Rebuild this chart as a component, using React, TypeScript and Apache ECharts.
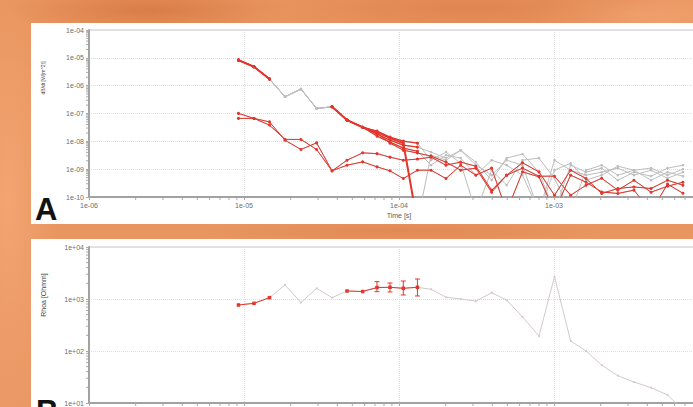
import React, { useEffect, useRef } from 'react';
import * as echarts from 'echarts';

// Sample times shared by all soundings (s)
const TIMES = [9.21e-6, 1.16e-5, 1.46e-5, 1.84e-5, 2.33e-5, 2.94e-5, 3.70e-5, 4.62e-5, 5.83e-5, 7.21e-5,
  8.75e-5, 1.066e-4, 1.315e-4, 1.61e-4, 2.01e-4, 2.50e-4, 3.13e-4, 3.96e-4, 4.95e-4, 6.26e-4,
  8.0e-4, 1.007e-3, 1.28e-3, 1.61e-3, 2.03e-3, 2.58e-3, 3.28e-3, 4.23e-3, 5.40e-3, 6.79e-3];

// Panel A: dB/dt – early part shared by the stacked high-moment curves (k0..k8)
const TOP_HEAD = [8.3e-6, 4.8e-6, 1.73e-6, 4.0e-7, 7.55e-7, 1.52e-7, 1.74e-7, 5.8e-8, 3.2e-8];
// later parts (k9..k29)
const FAN_1 = [2.14e-8, 1.30e-8, 8.6e-9, 1.2e-11, 3.2e-9, 2.1e-9, 4.8e-9, 1.39e-9, 6.1e-10, 2.1e-9, 1.39e-9, 3e-11, 2.1e-9, 9.2e-10, 6.1e-10, 7.8e-10, 1.09e-9, 6.1e-10, 9.2e-10, 4.7e-10, 7.8e-10];
const FAN_2 = [1.82e-8, 1.10e-8, 7.3e-9, 6.2e-9, 4.1e-9, 2.5e-9, 4.8e-9, 1.79e-9, 4.0e-10, 2.5e-9, 3.5e-9, 7.8e-10, 3e-11, 1.39e-9, 7.8e-10, 1.09e-9, 4.0e-10, 7.8e-10, 5.6e-10, 1.09e-9, 1.39e-9];
const FAN_3 = [2.33e-8, 1.42e-8, 1.02e-8, 8.6e-9, 2.1e-9, 4.1e-9, 1.64e-9, 3e-11, 9.2e-10, 2.65e-10, 2.1e-9, 2.5e-9, 4.7e-10, 3e-11, 9.2e-10, 1.39e-9, 6.1e-10, 9.2e-10, 4.0e-10, 7.8e-10, 5.6e-10];
const FAN_4 = [1.54e-8, 9.35e-9, 5.7e-9, 4.4e-9, 1.39e-9, 3.2e-9, 2.5e-9, 6.1e-10, 2.1e-9, 1.39e-9, 6.1e-10, 3e-11, 9.2e-10, 1.64e-9, 4.0e-10, 6.1e-10, 1.28e-9, 9.2e-10, 1.09e-9, 6.1e-10, 1.0e-9];
const FAN_5 = [1.97e-8, 8.6e-9, 4.8e-9, 3.8e-9, 2.94e-9, 1.79e-9, 9.2e-10, 1.09e-9, 1.49e-10, 6.1e-10, 1.09e-9, 5.6e-10, 5.6e-10, 1.16e-10, 2.65e-10, 4.7e-10, 1.76e-10, 4.0e-10, 1.49e-10, 2.44e-10, 3.4e-10];
// low-moment curves (k0..k29)
const LOW_1 = [1.01e-7, 6.67e-8, 5.0e-8, 1.10e-8, 5.1e-9, 8.8e-9, 8.7e-10, 2.1e-9, 3.86e-9, 3.61e-9, 2.7e-9, 2.1e-9, 2.3e-9, 2.7e-9, 1.39e-9, 1.79e-9, 1.28e-9, 1.76e-10, 6.1e-10, 1.69e-9, 8.0e-10, 1.16e-10, 9.2e-10, 4.6e-10, 1.34e-10, 2.02e-10, 2.3e-10, 2.02e-10, 4.0e-10, 2.65e-10];
const LOW_2 = [6.67e-8, 6.67e-8, 3.83e-8, 1.17e-8, 1.17e-8, 5.1e-9, 8.7e-10, 1.39e-9, 1.83e-9, 1.21e-9, 8.7e-10, 4.6e-10, 9.2e-10, 9.2e-10, 4.6e-10, 1.39e-9, 6.1e-10, 1.09e-9, 3e-11, 8.0e-10, 5.3e-10, 3e-11, 6.1e-10, 3.4e-10, 1.52e-10, 1.34e-10, 1.76e-10, 3e-11, 2.9e-10, 1.37e-10];

// Panel B: apparent resistivity (Ohmm)
const RHOA = [767, 826, 1060, 1860, 852, 1607, 1060, 1426, 1393, 1663, 1679, 1607, 1679, 1538, 1080, 1000, 910, 1320, 955, 451, 194, 2685, 156, 100, 53.7, 33.5, 25.3, 19.7, 14.3, 7.3];
const ERR_IDX = [9, 10, 11, 12];
const ERR_LOW = [1380, 1365, 1194, 1143];
const ERR_HIGH = [2155, 2030, 2218, 2424];

const RED = '#e3362c';
const GREY = '#bdbdbd';
const GREY_B = '#d2cac8';
const FONT = 'Liberation Sans';
const LABEL = '#6e6e6e';

const fmt = (v: number) => {
  const e = Math.round(Math.log10(v));
  return '1e' + (e < 0 ? '-' : '+') + String(Math.abs(e)).padStart(2, '0');
};
// the 1e-02 tick lies beyond the visible edge
const fmtX = (v: number) => (Math.round(Math.log10(v)) >= -2 ? '' : fmt(v));

const pairs = (vals: number[], a = 0, b = vals.length - 1) => {
  const out: number[][] = [];
  for (let i = a; i <= b; i++) out.push([TIMES[i], vals[i]]);
  return out;
};

const decadeMinors = (lo: number, hi: number) => {
  const out: number[] = [];
  for (let e = lo; e < hi; e++) for (let m = 2; m <= 9; m++) out.push(m * Math.pow(10, e));
  return out;
};

function buildOption() {
  const linesA = [
    { v: [...TOP_HEAD, ...FAN_3], red: [[0, 2], [6, 12]], w: 1.2 },
    { v: [...TOP_HEAD, ...FAN_2], red: [[0, 2], [6, 12]], w: 1.2 },
    { v: [...TOP_HEAD, ...FAN_4], red: [[0, 2], [6, 12]], w: 1.2 },
    { v: [...TOP_HEAD, ...FAN_5], red: [[0, 2], [6, 29]], w: 1 },
    { v: [...TOP_HEAD, ...FAN_1], red: [[0, 2], [6, 12]], w: 2 },
    { v: LOW_1, red: [[0, 29]], w: 1 },
    { v: LOW_2, red: [[0, 29]], w: 1 },
  ];
  const series: any[] = [];
  const line = (data: any[], color: string, width: number, size: number, idx: number, z: number, sym = 'circle') => ({
    type: 'line', xAxisIndex: idx, yAxisIndex: idx, data, symbol: sym, symbolSize: size,
    lineStyle: { color, width }, itemStyle: { color }, z, silent: true, clip: true,
  });
  linesA.forEach((l) => series.push(line(pairs(l.v), GREY, 1, 2.5, 0, 2)));
  linesA.forEach((l) => l.red.forEach(([a, b]) => series.push(line(pairs(l.v, a, b), RED, l.w, 3, 0, 3))));

  series.push(line(pairs(RHOA), GREY_B, 1, 2, 1, 2));
  series.push(line(pairs(RHOA, 0, 2), RED, 1, 3.5, 1, 3, 'rect'));
  series.push(line(pairs(RHOA, 7, 12), RED, 1, 3.5, 1, 3, 'rect'));
  series.push({
    type: 'custom', xAxisIndex: 1, yAxisIndex: 1, z: 4, silent: true,
    data: ERR_IDX.map((k, i) => [TIMES[k], ERR_LOW[i], ERR_HIGH[i]]),
    encode: { x: 0, y: [1, 2] },
    renderItem: (_p: any, api: any) => {
      const lo = api.coord([api.value(0), api.value(1)]);
      const hi = api.coord([api.value(0), api.value(2)]);
      const c = 2.5;
      const st = { stroke: RED, lineWidth: 1 };
      return {
        type: 'group', children: [
          { type: 'line', shape: { x1: lo[0], y1: lo[1], x2: hi[0], y2: hi[1] }, style: st },
          { type: 'line', shape: { x1: lo[0] - c, y1: lo[1], x2: lo[0] + c, y2: lo[1] }, style: st },
          { type: 'line', shape: { x1: hi[0] - c, y1: hi[1], x2: hi[0] + c, y2: hi[1] }, style: st },
        ],
      };
    },
  });

  // minor ticks on log axes
  const minorX = (idx: number, yMin: number) => ({
    type: 'custom', xAxisIndex: idx, yAxisIndex: idx, silent: true, clip: false, z: 1,
    data: decadeMinors(-6, -2).map((v) => [v, yMin]), encode: { x: 0, y: 1 },
    renderItem: (_p: any, api: any) => {
      const p = api.coord([api.value(0), api.value(1)]);
      return { type: 'line', shape: { x1: p[0], y1: p[1] + 1, x2: p[0], y2: p[1] + 3 }, style: { stroke: '#aaaaaa', lineWidth: 1 } };
    },
  });
  const minorY = (idx: number, lo: number, hi: number) => ({
    type: 'custom', xAxisIndex: idx, yAxisIndex: idx, silent: true, clip: false, z: 1,
    data: decadeMinors(lo, hi).map((v) => [1e-6, v]), encode: { x: 0, y: 1 },
    renderItem: (_p: any, api: any) => {
      const p = api.coord([api.value(0), api.value(1)]);
      return { type: 'line', shape: { x1: p[0] - 3, y1: p[1], x2: p[0] - 1, y2: p[1] }, style: { stroke: '#aaaaaa', lineWidth: 1 } };
    },
  });
  series.push(minorX(0, 1e-10), minorX(1, 10), minorY(0, -10, -4), minorY(1, 1, 4));

  const axisCommon = {
    type: 'log', logBase: 10,
    axisLine: { show: true, onZero: false, lineStyle: { color: '#a2a2a2', width: 2 } },
    axisTick: { show: true, length: 3, lineStyle: { color: '#aaaaaa' } },
    axisLabel: { formatter: fmt, fontSize: 7, color: LABEL, fontFamily: FONT, margin: 5 },
    splitLine: { show: true, lineStyle: { type: 'dotted', color: '#dedede', width: 1 } },
  };

  return {
    animation: false,
    grid: [
      { left: 89, top: 30, width: 620, height: 167, show: true, borderColor: '#c6c6c6', borderWidth: 1 },
      { left: 89, top: 247, width: 620, height: 156, show: true, borderColor: '#c6c6c6', borderWidth: 1 },
    ],
    xAxis: [
      { ...axisCommon, gridIndex: 0, min: 1e-6, max: 1e-2, name: 'Time [s]', nameLocation: 'middle', nameGap: 15,
        axisLabel: { ...axisCommon.axisLabel, formatter: fmtX },
        nameTextStyle: { fontSize: 7, color: '#5e5e5e', fontFamily: FONT } },
      { ...axisCommon, gridIndex: 1, min: 1e-6, max: 1e-2, axisLabel: { show: false } },
    ],
    yAxis: [
      { ...axisCommon, gridIndex: 0, min: 1e-10, max: 1e-4 },
      { ...axisCommon, gridIndex: 1, min: 10, max: 1e4 },
    ],
    graphic: [
      { type: 'text', x: 43, y: 78, rotation: Math.PI / 2, silent: true,
        style: { text: 'dB/dt [V/(m^2)]', fontSize: 5, fontFamily: FONT, fill: '#444', align: 'center', verticalAlign: 'middle' } },
      { type: 'text', x: 43, y: 295, rotation: Math.PI / 2, silent: true,
        style: { text: 'Rhoa [Ohmm]', fontSize: 7, fontFamily: FONT, fill: '#444', align: 'center', verticalAlign: 'middle' } },
      { type: 'text', x: 35, y: 209, silent: true,
        style: { text: 'A', fontSize: 31, fontWeight: 'bold', fontFamily: FONT, fill: '#111', align: 'left', verticalAlign: 'middle' } },
      { type: 'text', x: 36, y: 411, silent: true,
        style: { text: 'B', fontSize: 31, fontWeight: 'bold', fontFamily: FONT, fill: '#111', align: 'left', verticalAlign: 'middle' } },
    ],
    series,
  };
}

const BG = [
  'radial-gradient(ellipse 140px 26px at 150px 10px, rgba(212,116,62,0.75), rgba(212,116,62,0))',
  'radial-gradient(ellipse 220px 30px at 470px 8px, rgba(220,126,74,0.7), rgba(220,126,74,0))',
  'radial-gradient(ellipse 120px 22px at 640px 14px, rgba(246,170,120,0.7), rgba(246,170,120,0))',
  'radial-gradient(ellipse 50px 220px at 8px 200px, rgba(246,168,118,0.8), rgba(246,168,118,0))',
  'radial-gradient(ellipse 200px 14px at 400px 231px, rgba(222,132,80,0.7), rgba(222,132,80,0))',
  'linear-gradient(180deg, #e99560 0%, #e8955f 50%, #ea9865 100%)',
].join(',');

export default function App() {
  const ref = useRef<HTMLDivElement>(null);
  useEffect(() => {
    if (!ref.current) return;
    const chart = echarts.init(ref.current, null, { renderer: 'svg' });
    chart.setOption(buildOption() as any);
    return () => chart.dispose();
  }, []);
  return (
    <div style={{ position: 'fixed', left: 0, top: 0, width: 693, height: 407, overflow: 'hidden', background: BG }}>
      <div style={{ position: 'absolute', left: 31, top: 23, width: 700, height: 201, background: '#ffffff' }} />
      <div style={{ position: 'absolute', left: 31, top: 239, width: 700, height: 200, background: '#ffffff' }} />
      <div ref={ref} style={{ position: 'absolute', left: 0, top: 0, width: 730, height: 407 }} />
    </div>
  );
}
